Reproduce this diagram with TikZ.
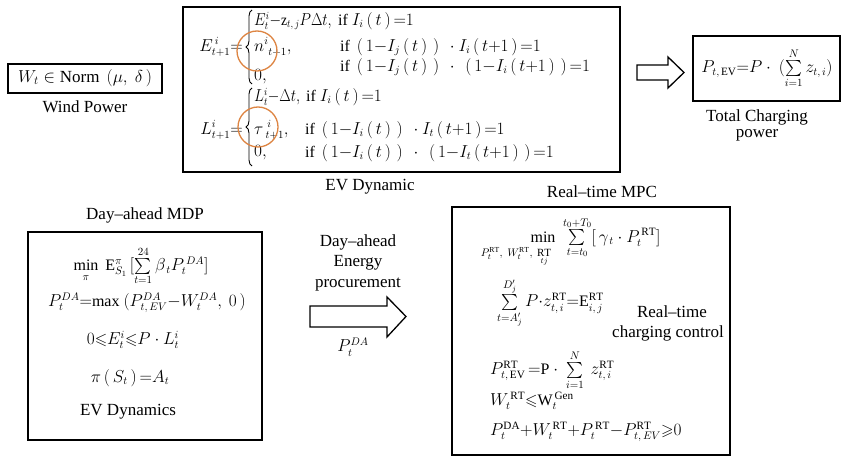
\documentclass[tikz,border=0pt]{standalone}
\usepackage{amsmath,amssymb}
\usepackage{fontspec}
\setmainfont{Liberation Serif}
\usetikzlibrary{decorations.pathreplacing}
\definecolor{ringorange}{RGB}{221,132,66}
\newcommand{\pl}{\,(\,}
\newcommand{\pr}{\,)\,}
\newcommand{\narrow}[1]{\scalebox{0.86}[1]{#1}}
\begin{document}
\begin{tikzpicture}[x=1pt,y=-1pt,
  txt/.style={font=\fontsize{17}{20}\selectfont, inner sep=0pt},
  eq/.style={font=\fontsize{16}{19}\selectfont, inner sep=0pt},
  sm/.style={font=\fontsize{11}{13}\selectfont, inner sep=0pt},
  panel/.style={draw=black, line width=1.3pt},
  ring/.style={circle, draw=ringorange, line width=1.3pt, minimum size=40pt, inner sep=0pt},
  curly/.style={decorate, decoration={brace, amplitude=6pt}, line width=0.9pt},
  blockarrow/.style={draw=black, line width=1.3pt, fill=white}]
\useasboundingbox (0,0) rectangle (845,457);

% ---------- wind power ----------
\draw[panel] (8,64) rectangle (162,93);
\node[txt] (wind) at (85,78) {$W_t\in\mathrm{Norm}\ \,(\mu,\ \delta\,)$};
\node[txt] (windlab) at (85,107) {Wind Power};

% ---------- EV dynamics ----------
\draw[panel] (183,7) rectangle (620,172);
\node[eq, anchor=east] (elhs) at (243,47) {$E^{\,i}_{t+1}{=}$};
\draw[curly] (252,84) -- (252,10);
\node[eq, anchor=west] (e1v) at (254,21) {\narrow{$E^{i}_{t}{-}\mathrm{z}_{t,\,j}P\Delta t,$}};
\node[eq, anchor=west] (e1c) at (338,21) {if $I_i\pl t\pr{=}1$};
\node[eq, anchor=west] (e2v) at (254,47) {$n^{i}_{\ t+1},$};
\node[eq, anchor=west] (e2c) at (340,47) {if\ $\pl 1{-}I_j\pl t\pr\pr\ \cdot I_i\pl t{+}1\pr{=}1$};
\node[eq, anchor=west] (e3c) at (340,67) {if\ $\pl 1{-}I_j\pl t\pr\pr\ \cdot\ \pl 1{-}I_i\pl t{+}1\pr\pr{=}1$};
\node[eq, anchor=west] (e3v) at (254,77) {$0,$};
\node[ring] (c1) at (257,51) {};

\node[eq, anchor=east] (llhs) at (243,130) {$L^{i}_{t+1}{=}$};
\draw[curly] (252,166) -- (252,88);
\node[eq, anchor=west] (l1v) at (254,97) {\narrow{$L^{i}_{t}{-}\Delta t,$}};
\node[eq, anchor=west] (l1c) at (306,97) {if $I_i\pl t\pr{=}1$};
\node[eq, anchor=west] (l2v) at (254,130) {$\tau^{\ i}_{\ t+1},$};
\node[eq, anchor=west] (l2c) at (305,130) {if\ $\pl 1{-}I_i\pl t\pr\pr\ \cdot I_t\pl t{+}1\pr{=}1$};
\node[eq, anchor=west] (l3v) at (254,153) {$0,$};
\node[eq, anchor=west] (l3c) at (305,153) {if\ $\pl 1{-}I_i\pl t\pr\pr\ \cdot\ \pl 1{-}I_t\pl t{+}1\pr\pr{=}1$};
\node[ring] (c2) at (258,127) {};
\node[txt] (evlab) at (370,187) {EV Dynamic};

% ---------- total charging power ----------
\draw[blockarrow] (637,65) -- (668,65) -- (668,57) -- (684,72.5) -- (668,88) -- (668,80) -- (637,80) -- cycle;
\draw[panel] (693,36) rectangle (840,101);
\node[eq] (tot) at (767,68) {$P_{t,\,\mathrm{EV}}{=}P\cdot\ (\sum\limits_{i=1}^{N}z_{t,\,i})$};
\node[txt] (totlab1) at (757,117) {Total Charging};
\node[txt] (totlab2) at (757,135) {power};

% ---------- day-ahead MDP ----------
\node[txt] (datitle) at (145,215) {Day–ahead MDP};
\draw[panel] (28,232) rectangle (262,440);
\node[eq] (da1) at (141,266) {$\min\limits_{\pi}\ \mathrm{E}^{\pi}_{S_1}\,[\sum\limits_{t=1}^{24}\beta_{\,t}P_t^{\,DA}]$};
\node[eq] (da2) at (147,303) {$P_t^{DA}{=}\mathrm{max}\ (P^{DA}_{t,\,EV}{-}W^{DA}_t,\ 0\,)$};
\node[eq] (da3) at (133,340) {$0{\leqslant}E^{i}_t{\leqslant}P\cdot L^{i}_t$};
\node[eq] (da4) at (130,378) {$\pi\pl S_t\pr{=}A_t$};
\node[txt] (da5) at (128,412) {EV Dynamics};

% ---------- energy procurement ----------
\node[txt] (pr1) at (358,242) {Day–ahead};
\node[txt] (pr2) at (358,263) {Energy};
\node[txt] (pr3) at (358,285) {procurement};
\draw[blockarrow] (310,306) -- (387,306) -- (387,297) -- (406,316.5) -- (387,337) -- (387,327) -- (310,327) -- cycle;
\node[eq] (prda) at (353,347) {$P_t^{DA}$};

% ---------- real-time MPC ----------
\node[txt] (rttitle) at (602,192) {Real–time MPC};
\draw[panel] (452,207) rectangle (730,455);
\node[eq, anchor=base] (rtmin) at (543,242) {min};
\node[sm] (rtsub) at (516,257) {$P_t^{\mathrm{RT}},\ W_t^{\mathrm{RT}},\ \underset{tj}{\mathrm{RT}}$};
\node[eq, anchor=base west] (rtobj) at (563,242) {$\sum\limits_{t=t_0}^{t_0+T_0}[\,\gamma_{\,t}\cdot P_t^{\,\mathrm{RT}}]$};
\node[eq, anchor=west] (rt2) at (497,303) {$\sum\limits_{t=A'_j}^{D'_j}P{\cdot}z^{\mathrm{RT}}_{t,\,i}{=}\mathrm{E}^{\mathrm{RT}}_{i,\,j}$};
\node[txt] (rtlab1) at (672,312) {Real–time};
\node[txt] (rtlab2) at (668,333) {charging control};
\node[eq, anchor=west] (rt3) at (490,370) {$P^{\mathrm{RT}}_{t,\,\mathrm{EV}}\,{=}\mathrm{P}\cdot\ \sum\limits_{i=1}^{N}\ z^{\mathrm{RT}}_{t,\,i}$};
\node[eq, anchor=west] (rt4) at (490,401) {$W_t^{\,\mathrm{RT}}{\leqslant}\mathrm{W}_t^{\,\mathrm{Gen}}$};
\node[eq, anchor=west] (rt5) at (490,432) {$P_t^{\mathrm{DA}}{+}W_t^{\,\mathrm{RT}}{+}P_t^{\,\mathrm{RT}}{-}P^{\mathrm{RT}}_{t,\,EV}{\geqslant}0$};
\end{tikzpicture}
\end{document}
